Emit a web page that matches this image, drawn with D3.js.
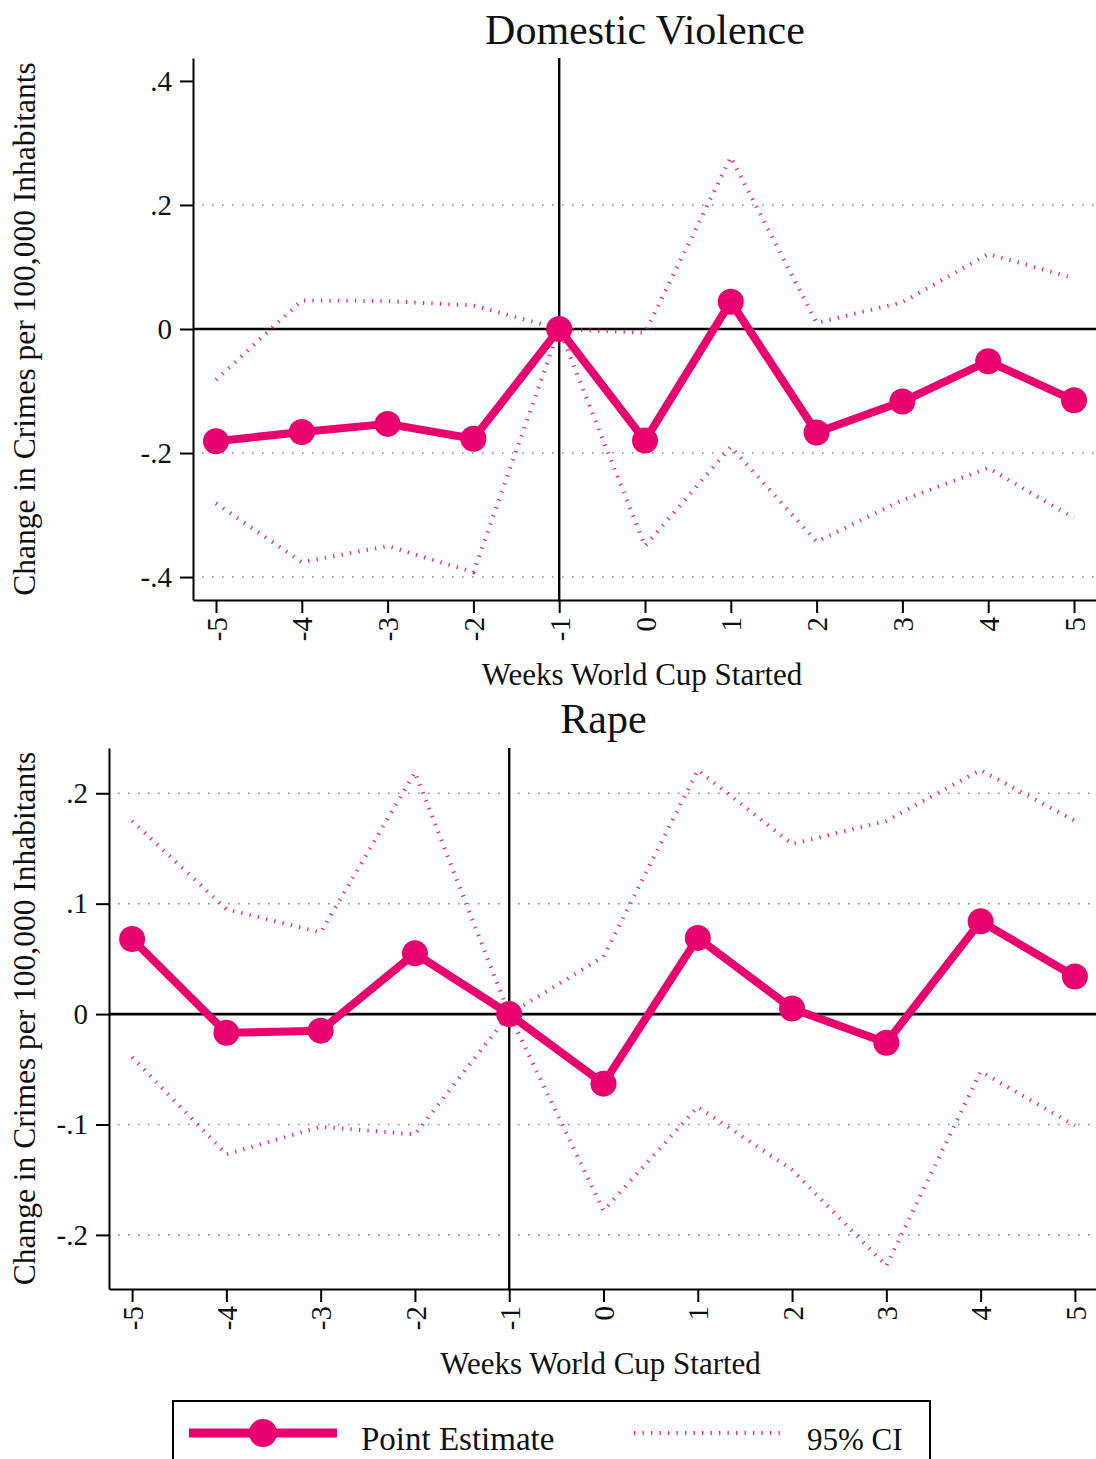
<!DOCTYPE html>
<html><head><meta charset="utf-8">
<script src="https://cdn.jsdelivr.net/npm/d3@7"></script>
<style>body{margin:0;background:#fff}svg{display:block}text{font-family:"Liberation Serif","Times New Roman",serif;fill:#111}</style>
</head><body>
<svg id="c" width="1096" height="1459"></svg>
<script>
// ---- data ----
const weeks = [-5,-4,-3,-2,-1,0,1,2,3,4,5];
const weekLabels = ["-5","-4","-3","-2","-1","0","1","2","3","4","5"];

const dvEstimate = [-0.181,-0.166,-0.153,-0.177,0,-0.180,0.044,-0.167,-0.117,-0.052,-0.115];
const dvUpper    = [-0.082,0.046,0.045,0.038,0,-0.006,0.277,0.010,0.043,0.121,0.082];
const dvLower    = [-0.281,-0.376,-0.350,-0.392,0,-0.350,-0.190,-0.343,-0.276,-0.224,-0.305];

const rapeEstimate = [0.068,-0.017,-0.015,0.055,0,-0.063,0.069,0.005,-0.026,0.084,0.034];
const rapeUpper    = [0.175,0.095,0.074,0.219,0,0.052,0.221,0.154,0.175,0.221,0.175];
const rapeLower    = [-0.039,-0.127,-0.102,-0.109,0,-0.178,-0.084,-0.141,-0.228,-0.052,-0.101];

const dvTicks = [0.4,0.2,0,-0.2,-0.4];
const dvTickLabels = [".4",".2","0","-.2","-.4"];
const dvGrid = [0.2,-0.2,-0.4];
const rapeTicks = [0.2,0.1,0,-0.1,-0.2];
const rapeTickLabels = [".2",".1","0","-.1","-.2"];
const rapeGrid = [0.2,0.1,-0.1,-0.2];

const titles = ["Domestic Violence","Rape"];
const xTitle = "Weeks World Cup Started";
const yTitle = "Change in Crimes per 100,000 Inhabitants";
const legendLabels = ["Point Estimate","95% CI"];
const refWeek = -1;

const PINK = "#e8006f";
const svg = d3.select("#c");

function panel(o){
  const x = d3.scaleLinear().domain(o.xdom).range([o.left,o.right]);
  const y = d3.scaleLinear().domain(o.ydom).range([o.bottom,o.top]);
  const g = svg.append("g");

  // grid lines
  g.selectAll(".grid").data(o.grid).enter().append("line")
    .attr("x1",o.left+9).attr("x2",o.right).attr("y1",d=>y(d)).attr("y2",d=>y(d))
    .attr("stroke","#8a8a8a").attr("stroke-width",1.6).attr("stroke-dasharray","1.6 8.4");

  // zero line & reference line
  g.append("line").attr("x1",o.left).attr("x2",o.right).attr("y1",y(0)).attr("y2",y(0))
    .attr("stroke","#000").attr("stroke-width",2.6);
  g.append("line").attr("x1",x(refWeek)).attr("x2",x(refWeek)).attr("y1",o.top).attr("y2",o.bottom)
    .attr("stroke","#000").attr("stroke-width",2.4);

  // CI lines
  const line = d3.line().x((d,i)=>x(weeks[i])).y(d=>y(d));
  [o.upper,o.lower].forEach(s=>{
    g.append("path").attr("d",line(s)).attr("fill","none").attr("stroke",PINK)
      .attr("stroke-width",4).attr("stroke-dasharray","1.3 7.2").attr("opacity",0.85);
  });
  // point estimate
  g.append("path").attr("d",line(o.est)).attr("fill","none").attr("stroke",PINK)
    .attr("stroke-width",8).attr("stroke-linejoin","round");
  g.selectAll(".pt").data(o.est).enter().append("circle")
    .attr("cx",(d,i)=>x(weeks[i])).attr("cy",d=>y(d)).attr("r",13).attr("fill",PINK);

  // axes
  const ya = d3.axisLeft(y).tickValues(o.ticks).tickFormat((d,i)=>o.tickLabels[i])
    .tickSize(13).tickSizeOuter(0).tickPadding(8);
  const yg = g.append("g").attr("transform",`translate(${o.left},0)`).call(ya);
  yg.selectAll("text").style("font-size","29px").attr("font-family","Liberation Serif").attr("fill","#111");
  const xa = d3.axisBottom(x).tickValues(weeks).tickFormat((d,i)=>weekLabels[i])
    .tickSize(13).tickSizeOuter(0);
  const xg = g.append("g").attr("transform",`translate(0,${o.bottom})`).call(xa);
  xg.selectAll("text").attr("transform","rotate(-90)").attr("x",-17).attr("y",0)
    .attr("dy","0.35em").attr("text-anchor","end").style("font-size","29px")
    .attr("font-family","Liberation Serif").attr("fill","#111");
  [yg,xg].forEach(a=>{a.selectAll("path,line").attr("stroke","#000").attr("stroke-width",2);});

  // titles
  const cx = (o.left+o.right)/2;
  g.append("text").attr("x",cx).attr("y",o.titleY).attr("text-anchor","middle")
    .style("font-size","42px").text(o.title);
  g.append("text").attr("x",cx-3).attr("y",o.xTitleY).attr("text-anchor","middle")
    .style("font-size","31px").text(xTitle);
  g.append("text").attr("transform",`translate(35,${(o.top+o.bottom)/2}) rotate(-90)`)
    .attr("text-anchor","middle").style("font-size","31.5px").text(yTitle);
}

panel({left:193,right:1097,top:58,bottom:600,xdom:[-5.268,5.268],ydom:[-0.437,0.437],
  ticks:dvTicks,tickLabels:dvTickLabels,grid:dvGrid,est:dvEstimate,upper:dvUpper,lower:dvLower,
  title:titles[0],titleY:44,xTitleY:685});
panel({left:109,right:1098,top:748,bottom:1289,xdom:[-5.245,5.245],ydom:[-0.249,0.241],
  ticks:rapeTicks,tickLabels:rapeTickLabels,grid:rapeGrid,est:rapeEstimate,upper:rapeUpper,lower:rapeLower,
  title:titles[1],titleY:733,xTitleY:1374});

// legend
const lg = svg.append("g");
lg.append("rect").attr("x",173).attr("y",1401).attr("width",757).attr("height",100)
  .attr("fill","none").attr("stroke","#000").attr("stroke-width",2);
lg.append("line").attr("x1",189).attr("x2",337).attr("y1",1433).attr("y2",1433)
  .attr("stroke",PINK).attr("stroke-width",9);
lg.append("circle").attr("cx",263).attr("cy",1433).attr("r",14).attr("fill",PINK);
lg.append("text").attr("x",361).attr("y",1450).style("font-size","33px").text(legendLabels[0]);
lg.append("line").attr("x1",634).attr("x2",782).attr("y1",1433).attr("y2",1433)
  .attr("stroke",PINK).attr("stroke-width",4).attr("stroke-dasharray","1.3 7.2").attr("opacity",0.85);
lg.append("text").attr("x",807).attr("y",1450).style("font-size","31px").text(legendLabels[1]);
</script>
</body></html>
